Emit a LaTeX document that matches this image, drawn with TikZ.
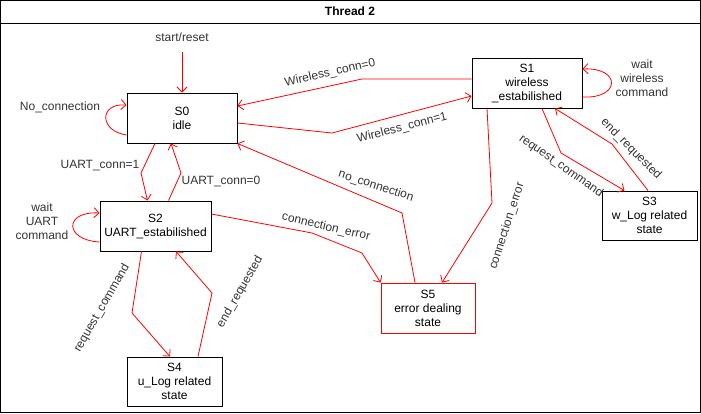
\documentclass[tikz,border=0pt]{standalone}
\usepackage{fontspec}
\setmainfont{Liberation Sans}
\usetikzlibrary{arrows.meta,calc}
\begin{document}
\begin{tikzpicture}[x=1pt,y=-1pt,
  statebox/.style={draw=black, line width=0.9pt, align=center, inner sep=0pt,
    font=\fontsize{12}{14}\selectfont, text=black},
  tr/.style={draw=red, line width=0.8pt, -{Straight Barb[length=5pt,width=10pt]}},
  lbl/.style={font=\fontsize{12}{14}\selectfont, text=black!80, inner sep=0pt, align=center}]
\useasboundingbox (0,0) rectangle (701,413);
\draw[line width=1pt] (0.5,0.5) rectangle (700,412);
\draw[line width=1pt] (0.5,23) -- (700,23);
\node[font=\bfseries\fontsize{12}{14}\selectfont] (title) at (350,11.5) {Thread 2};

% states
\node[statebox, minimum width=110pt, minimum height=50pt] (S0) at (182,118) {S0\\idle};
\node[statebox, minimum width=110pt, minimum height=50pt] (S1) at (527,83) {S1\\wireless\\\_estabilished};
\node[statebox, minimum width=111pt, minimum height=50pt] (S2) at (155.5,226) {S2\\UART\_estabilished};
\node[statebox, minimum width=95pt, minimum height=49pt] (S3) at (649.5,215.5) {S3\\w\_Log related\\state};
\node[statebox, minimum width=95pt, minimum height=49pt] (S4) at (174.5,381.5) {S4\\u\_Log related\\state};
\node[statebox, draw=red, minimum width=94pt, minimum height=50pt] (S5) at (428,308) {S5\\error dealing\\state};

% start
\coordinate (st) at (182,52);
\node[lbl] (startlbl) at (182,37) {start/reset};
\draw[tr] (st) -- (S0.north);

% S0 self loop
\draw[tr] ([yshift=-17pt]S0.west) .. controls (99,131) and (99,103) .. ([yshift=13pt]S0.west);
\node[lbl] (l0) at (60,107) {No\_connection};

% wireless
\draw[tr] ([yshift=4pt]S1.west) -- (362,79) -- ([yshift=12pt]S0.east);
\node[lbl, rotate=12.5] (l1) at (330,73) {Wireless\_conn=0};
\draw[tr] ([yshift=-5pt]S0.east) -- (332,133) -- ([yshift=-13pt]S1.west);
\node[lbl, rotate=14.5] (l2) at (402,128) {Wireless\_conn=1};

% S1 self loop
\draw[tr] ([yshift=-14pt]S1.east) .. controls (621,99) and (621,67) .. ([yshift=14pt]S1.east);
\node[lbl] (l3) at (642,78) {wait\\wireless\\command};

% S1 <-> S3
\draw[tr] ([xshift=15pt]S1.south) -- (561,153) -- ([xshift=-25pt]S3.north);
\node[lbl, rotate=-35] (l4) at (561,166) {request\_command};
\draw[tr] ([xshift=-1.5pt]S3.north) -- (612,144) -- ([xshift=28pt]S1.south);
\node[lbl, rotate=-45] (l5) at (631,149) {end\_requested};

% S1 -> S5
\draw[tr] ([xshift=-40pt]S1.south) -- (492,203) -- ([xshift=14pt]S5.north);
\node[lbl, rotate=72] (l6) at (507,226) {connection\_error};

% S5 -> S0
\draw[tr] ([xshift=-13pt]S5.north) -- (402,213) -- (S0.south east);
\node[lbl, rotate=-18] (l7) at (376,186) {no\_connection};

% S2 -> S5
\draw[tr] ([yshift=12pt]S2.east) -- (312,233) -- (362,253) -- (S5.north west);
\node[lbl, rotate=-13] (l8) at (326,227) {connection\_error};

% S0 <-> S2
\draw[tr] ([xshift=-27pt]S0.south) -- (141,173) -- ([xshift=-8pt]S2.north);
\node[lbl] (l9) at (100,166) {UART\_conn=1};
\draw[tr] ([xshift=13pt]S2.north) -- (181,173) -- ([xshift=-11pt]S0.south);
\node[lbl] (l10) at (221,181) {UART\_conn=0};

% S2 self loop
\draw[tr] ([yshift=-16pt]S2.west) .. controls (64,240) and (64,211) .. ([yshift=13pt]S2.west);
\node[lbl] (l11) at (42,221) {wait\\UART\\command};

% S2 <-> S4
\draw[tr] ([xshift=-14pt]S2.south) -- (132,313) -- ([xshift=-4.5pt]S4.north);
\node[lbl, rotate=60] (l12) at (102,308) {request\_command};
\draw[tr] ([xshift=23.5pt]S4.north) -- (212,293) -- ([xshift=20.5pt]S2.south);
\node[lbl, rotate=60] (l13) at (240,292) {end\_requested};
\end{tikzpicture}
\end{document}
